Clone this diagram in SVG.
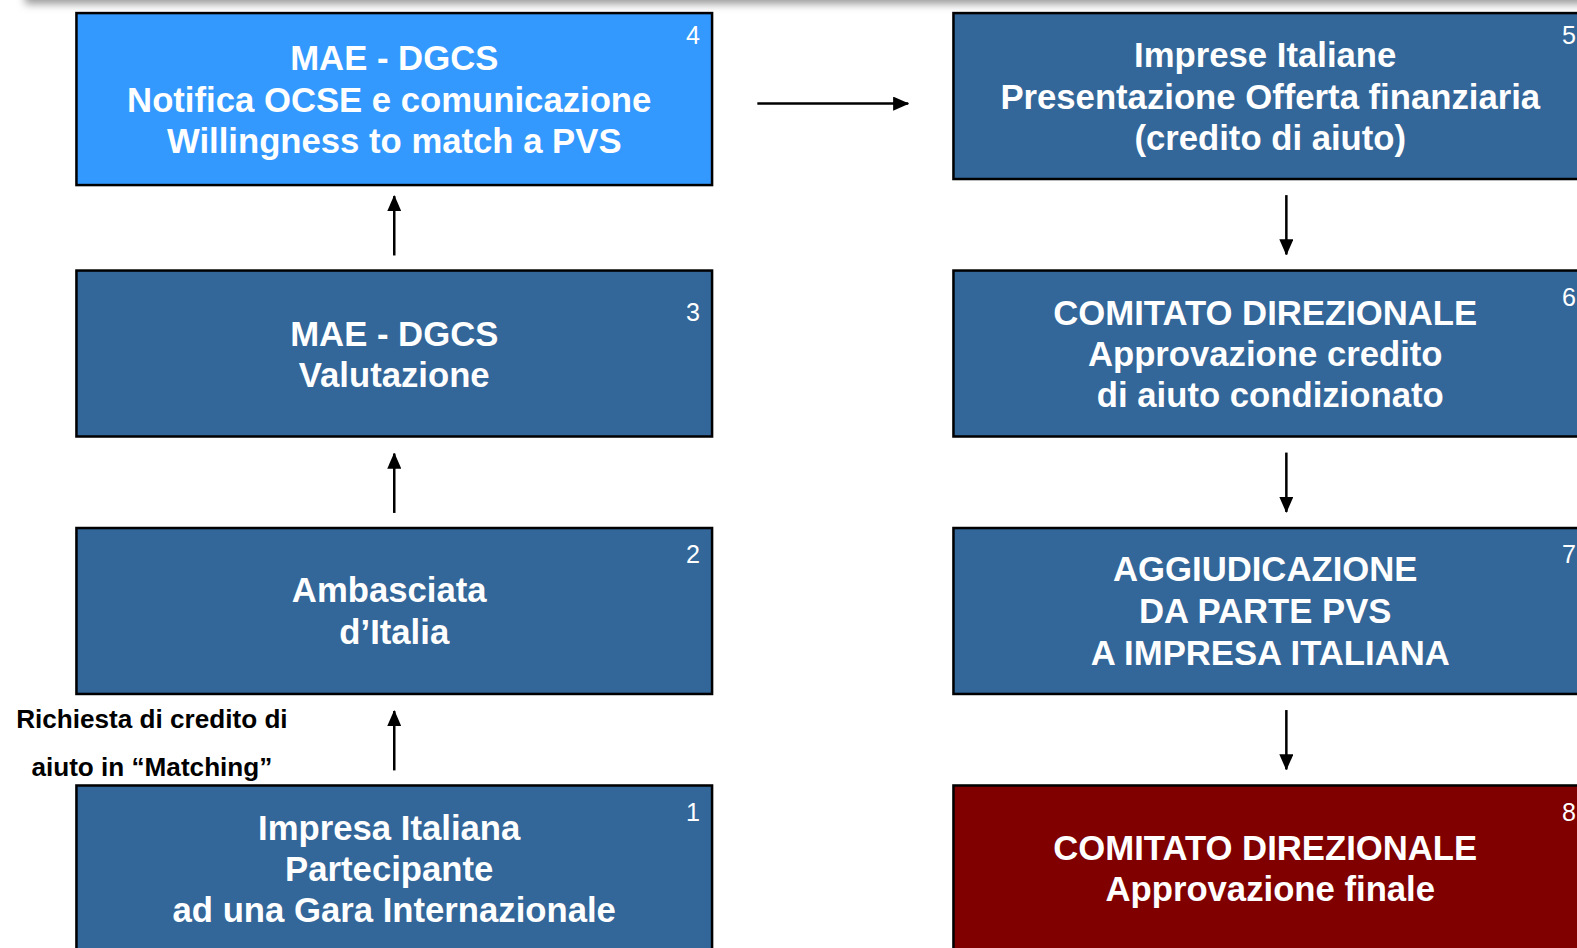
<svg xmlns="http://www.w3.org/2000/svg" width="1577" height="948" viewBox="0 0 1577 948">
<defs>
<filter id="sh" x="-5%" y="-200%" width="110%" height="500%"><feGaussianBlur stdDeviation="4"/></filter>
<marker id="ah" viewBox="0 0 16 14" refX="15" refY="7" markerWidth="16" markerHeight="14" markerUnits="userSpaceOnUse" orient="auto"><path d="M0,0 L16,7 L0,14 Z" fill="#000"/></marker>
</defs>
<style>
.box{stroke:#000;stroke-width:2.5}
.blue{fill:#336699}
.light{fill:#3399FF}
.red{fill:#800000}
.t{font-family:"Liberation Sans",Arial,sans-serif;font-weight:bold;font-size:34.5px;fill:#fff;text-anchor:middle}
.n{font-family:"Liberation Sans",Arial,sans-serif;font-size:25px;fill:#fff}
.lbl{font-family:"Liberation Sans",Arial,sans-serif;font-weight:bold;font-size:26px;fill:#000;text-anchor:middle}
.c{stroke:#000;stroke-width:2.5;fill:none;marker-end:url(#ah)}
</style>
<rect width="1577" height="948" fill="#fff"/>
<rect x="25" y="-30" width="1600" height="34" fill="#999" filter="url(#sh)"/>
<g transform="scale(1.00575)">
<g id="node4"><rect class="box light" x="76" y="13" width="632" height="171"/><text class="n" x="682" y="44">4</text><text class="t" x="392" y="70">MAE - DGCS</text><text class="t" x="387" y="111">Notifica OCSE e comunicazione</text><text class="t" x="392" y="152">Willingness to match a PVS</text></g>
<g id="node3"><rect class="box blue" x="76" y="269" width="632" height="165"/><text class="n" x="682" y="319">3</text><text class="t" x="392" y="344">MAE - DGCS</text><text class="t" x="392" y="385">Valutazione</text></g>
<g id="node2"><rect class="box blue" x="76" y="525" width="632" height="165"/><text class="n" x="682" y="560">2</text><text class="t" x="387" y="599">Ambasciata</text><text class="t" x="392" y="640">d’Italia</text></g>
<g id="node1"><rect class="box blue" x="76" y="781" width="632" height="180"/><text class="n" x="682" y="816">1</text><text class="t" x="387" y="835">Impresa Italiana</text><text class="t" x="387" y="876">Partecipante</text><text class="t" x="392" y="917">ad una Gara Internazionale</text></g>
<g id="node5"><rect class="box blue" x="948" y="13" width="640" height="165"/><text class="n" x="1553" y="44">5</text><text class="t" x="1258" y="67">Imprese Italiane</text><text class="t" x="1263" y="108">Presentazione Offerta finanziaria</text><text class="t" x="1263" y="149">(credito di aiuto)</text></g>
<g id="node6"><rect class="box blue" x="948" y="269" width="640" height="165"/><text class="n" x="1553" y="304">6</text><text class="t" x="1258" y="323">COMITATO DIREZIONALE</text><text class="t" x="1258" y="364">Approvazione credito</text><text class="t" x="1263" y="405">di aiuto condizionato</text></g>
<g id="node7"><rect class="box blue" x="948" y="525" width="640" height="165"/><text class="n" x="1553" y="560">7</text><text class="t" x="1258" y="578">AGGIUDICAZIONE</text><text class="t" x="1258" y="619">DA PARTE PVS</text><text class="t" x="1263" y="661">A IMPRESA ITALIANA</text></g>
<g id="node8"><rect class="box red" x="948" y="781" width="640" height="180"/><text class="n" x="1553" y="816">8</text><text class="t" x="1258" y="855">COMITATO DIREZIONALE</text><text class="t" x="1263" y="896">Approvazione finale</text></g>
<g id="label"><text class="lbl" x="151" y="724">Richiesta di credito di</text><text class="lbl" x="151" y="772">aiuto in “Matching”</text></g>
<g id="connectors">
<line class="c" x1="753" y1="103" x2="903" y2="103"/>
<line class="c" x1="392" y1="254" x2="392" y2="195"/>
<line class="c" x1="392" y1="510" x2="392" y2="451"/>
<line class="c" x1="392" y1="766" x2="392" y2="707"/>
<line class="c" x1="1279" y1="194" x2="1279" y2="253"/>
<line class="c" x1="1279" y1="450" x2="1279" y2="509"/>
<line class="c" x1="1279" y1="706" x2="1279" y2="765"/>
</g>
</g>
</svg>
